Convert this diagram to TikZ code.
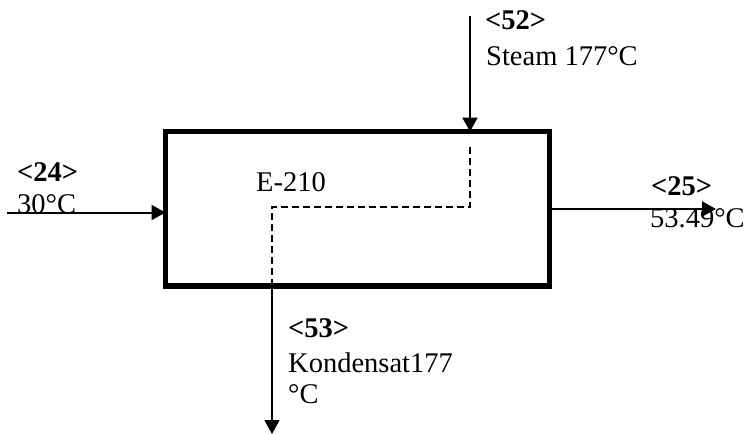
\documentclass[tikz,border=0pt]{standalone}
\usepackage{fontspec}
\setmainfont{Liberation Serif}
\usetikzlibrary{arrows.meta}
\begin{document}
\begin{tikzpicture}[x=1pt,y=-1pt,
  lbl/.style={anchor=base west,inner sep=0pt,font=\fontsize{28.5}{34}\selectfont},
  blbl/.style={lbl,font=\fontsize{28.5}{34}\selectfont\bfseries},
  stream/.style={line width=2pt,-{Triangle[length=14pt,width=15pt]}},
  thinstream/.style={line width=1.3pt,-{Triangle[length=14pt,width=15pt]}},
  hidden/.style={line width=2pt,dash pattern=on 7pt off 4pt},
  unit/.style={draw,line width=5.5pt,minimum width=384pt,minimum height=154.5pt,inner sep=0pt,outer sep=0pt}]
\useasboundingbox (0,0) rectangle (750,434);
\node[unit] (hx) at (357.5,208.75) {};
% labels
\node[blbl] (l24) at (17,181) {<24>};
\node[lbl] (t24) at (17,213) {30°C};
\node[blbl] (l52) at (485,29) {<52>};
\node[lbl] (t52) at (486,65) {Steam 177°C};
\node[lbl] (name) at (256,191) {E-210};
\node[blbl] (l25) at (651,195) {<25>};
\node[lbl] (t25) at (650,227) {53.49°C};
\node[blbl] (l53) at (288,337) {<53>};
\node[lbl] (t53a) at (288,372) {Kondensat177};
\node[lbl] (t53b) at (288,403) {°C};
% streams
\coordinate (in) at (7,212.5);
\draw[stream] (in) -- (in -| hx.west);
\coordinate (steam) at (470,16);
\draw[stream,line width=2.3pt] (steam) -- (steam |- hx.north);
\coordinate (outs) at (716,209);
\draw[stream] (outs -| hx.east) -- (outs);
\coordinate (c1) at (470,147);
\coordinate (c2) at (470,207);
\coordinate (c3) at (272,207);
\coordinate (cond) at (272,434);
\draw[hidden] (c1) -- (c2) -- (c3) -- (c3 |- hx.south);
\draw[thinstream] (cond |- hx.south) -- (cond);
\end{tikzpicture}
\end{document}
